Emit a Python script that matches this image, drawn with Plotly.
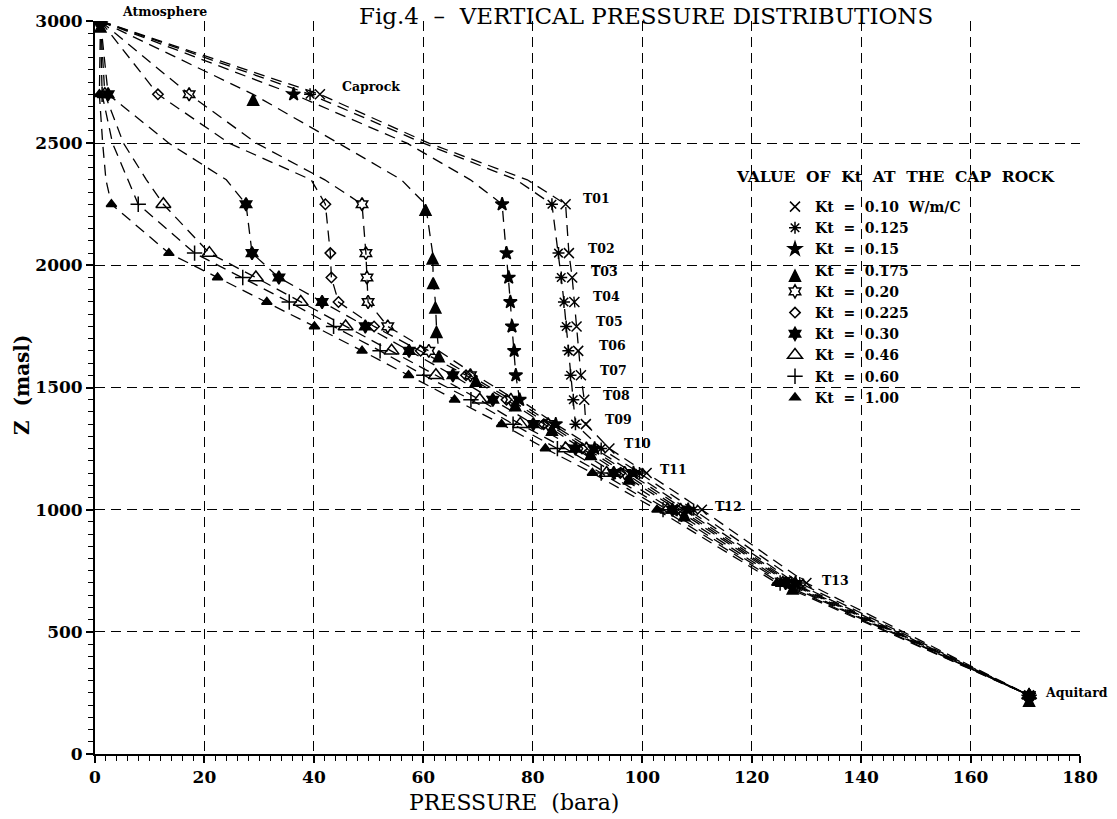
import plotly.graph_objects as go

# ---------------- data ----------------
level_names = ["Atmosphere", "Caprock", "T01", "T02", "T03", "T04", "T05", "T06",
               "T07", "T08", "T09", "T10", "T11", "T12", "T13", "Aquitard"]
level_z = [3000, 2700, 2250, 2050, 1950, 1850, 1750, 1650, 1550, 1450, 1350,
           1250, 1150, 1000, 700, 240]

kt_values = ["0.10", "0.125", "0.15", "0.175", "0.20", "0.225", "0.30", "0.46", "0.60", "1.00"]

p_kt010 = [1.0, 41.1, 86.0, 86.6, 87.2, 87.6, 88.0, 88.3, 88.8, 89.4, 89.7, 94.0, 100.8, 110.9, 130.0, 170.7]
p_kt0125 = [1.0, 39.3, 83.5, 84.7, 85.2, 85.7, 86.1, 86.5, 86.9, 87.4, 87.8, 92.5, 99.5, 109.4, 128.8, 170.7]
p_kt015 = [1.0, 36.3, 74.4, 75.2, 75.6, 75.9, 76.2, 76.6, 76.9, 77.6, 84.2, 91.3, 98.4, 108.4, 128.0, 170.7]
p_kt0175 = [1.0, 28.9, 60.4, 61.7, 61.8, 62.2, 62.4, 62.8, 69.6, 76.8, 83.5, 90.6, 97.6, 107.7, 127.5, 170.7]
p_kt020 = [1.0, 17.2, 48.8, 49.5, 49.7, 49.9, 53.5, 61.0, 68.6, 76.0, 82.8, 89.8, 96.8, 107.0, 127.1, 170.7]
p_kt0225 = [1.0, 11.5, 42.1, 43.0, 43.2, 44.5, 51.0, 59.5, 67.8, 75.2, 82.0, 89.0, 96.0, 106.4, 126.7, 170.7]
p_kt030 = [1.0, 2.4, 27.6, 28.7, 33.6, 41.5, 49.4, 57.4, 65.4, 72.7, 80.1, 87.8, 94.8, 105.5, 126.2, 170.7]
p_kt046 = [1.0, 1.8, 12.5, 20.9, 29.4, 37.6, 45.8, 54.2, 62.3, 70.3, 77.7, 86.0, 93.5, 104.6, 125.7, 170.7]
p_kt060 = [1.0, 1.3, 7.9, 18.2, 27.0, 35.5, 43.6, 52.1, 60.1, 68.7, 76.4, 84.5, 92.5, 103.8, 125.2, 170.7]
p_kt100 = [1.0, 0.8, 3.0, 13.5, 22.4, 31.4, 40.1, 48.8, 57.3, 65.7, 74.3, 82.3, 90.9, 102.7, 124.6, 170.7]

# curve points read between the caprock and T01 (no markers there)
upper_z = [2500, 2350]
upper_kt010 = [61.0, 79.0]
upper_kt0125 = [60.0, 77.0]
upper_kt015 = [57.0, 68.6]
upper_kt0175 = [44.5, 56.0]
upper_kt020 = [29.5, 42.0]
upper_kt0225 = [24.5, 39.5]
upper_kt030 = [13.5, 24.0]
upper_kt046 = [5.2, 9.4]
upper_kt060 = [3.2, 6.0]
upper_kt100 = [1.4, 2.0]

series_p = [p_kt010, p_kt0125, p_kt015, p_kt0175, p_kt020, p_kt0225, p_kt030, p_kt046, p_kt060, p_kt100]
series_upper = [upper_kt010, upper_kt0125, upper_kt015, upper_kt0175, upper_kt020,
                upper_kt0225, upper_kt030, upper_kt046, upper_kt060, upper_kt100]

x_ticks = [0, 20, 40, 60, 80, 100, 120, 140, 160, 180]
y_ticks = [0, 500, 1000, 1500, 2000, 2500, 3000]

# ---------------- styles ----------------
symbols = ["x-thin-open", "asterisk-open", "star", "arrow-up", "hexagram-open",
           "diamond-open", "hexagram", "triangle-up-open", "cross-thin-open", "triangle-up"]
sizes = [10, 10, 10, 11, 10, 8, 10, 13, 11, 9]

# label anchor positions (P, Z) for the level names
label_pos_p = [4.5, 44.7, 88.9, 89.8, 90.3, 90.7, 91.2, 91.7, 91.9, 92.4, 92.9, 96.3, 102.9, 112.9, 132.4, 173.3]
label_pos_z = [3000, 2730, 2274, 2070, 1975, 1872, 1772, 1671, 1569, 1469, 1370, 1269, 1165, 1012, 712, 250]

SERIF = "DejaVu Serif"
W, H = 1117, 819
ML, MR, MT, MB = 95, 37, 21, 65
PW, PH = W - ML - MR, H - MT - MB


def px(xw):
    return (xw - ML) / PW


def py(yw):
    return (H - MB - yw) / PH


fig = go.Figure()

# dashed profile curves
for p, up in zip(series_p, series_upper):
    z_line = level_z[:2] + upper_z + level_z[2:]
    p_line = p[:2] + up + p[2:]
    fig.add_trace(go.Scatter(
        x=p_line, y=z_line, mode="lines", showlegend=False, hoverinfo="skip",
        line=dict(color="black", width=1.3, dash="11px,7px")))

# markers (legend entries)
for p, kt, sym, sz in zip(series_p, kt_values, symbols, sizes):
    name = "Kt\u00a0\u00a0=\u00a0\u00a0" + kt + ("\u00a0\u00a0W/m/C" if kt == "0.10" else "")
    fig.add_trace(go.Scatter(
        x=p, y=level_z, mode="markers", name=name,
        marker=dict(symbol=sym, size=sz, color="black",
                    line=dict(color="black", width=1.5))))

annotations = []
for name, lp, lz in zip(level_names, label_pos_p, label_pos_z):
    annotations.append(dict(x=lp, y=lz, xref="x", yref="y", text="<b>" + name + "</b>",
                            showarrow=False, xanchor="left",
                            yanchor="bottom" if name == "Atmosphere" else "middle",
                            font=dict(family=SERIF, size=12.5, color="black")))

annotations.append(dict(x=px(646), y=py(0.5), xref="paper", yref="paper",
                        text="Fig.4\u00a0\u00a0–\u00a0\u00a0VERTICAL PRESSURE DISTRIBUTIONS",
                        showarrow=False, xanchor="center", yanchor="top",
                        font=dict(family=SERIF, size=23, color="black")))
annotations.append(dict(x=px(514), y=py(802), xref="paper", yref="paper",
                        text="PRESSURE\u00a0\u00a0(bara)", showarrow=False,
                        xanchor="center", yanchor="middle",
                        font=dict(family=SERIF, size=22, color="black")))
annotations.append(dict(x=px(22), y=py(385), xref="paper", yref="paper",
                        text="<b>Z\u00a0\u00a0(masl)</b>", showarrow=False, textangle=-90,
                        xanchor="center", yanchor="middle",
                        font=dict(family=SERIF, size=20, color="black")))
annotations.append(dict(x=px(895), y=py(176), xref="paper", yref="paper",
                        text="<b>VALUE\u00a0\u00a0OF\u00a0\u00a0Kt\u00a0\u00a0AT\u00a0\u00a0THE\u00a0\u00a0CAP\u00a0\u00a0ROCK</b>",
                        showarrow=False, xanchor="center", yanchor="middle",
                        font=dict(family=SERIF, size=15.5, color="black")))

tickfont = dict(family=SERIF, size=17, color="black", weight="bold")
axis_common = dict(showgrid=True, gridcolor="black", gridwidth=1.2, griddash="10px,6px",
                   zeroline=False, showline=True, linecolor="black", linewidth=1.8,
                   ticks="outside", ticklen=7, tickwidth=1.5, tickcolor="black",
                   tickfont=tickfont, automargin=False)
fig.update_layout(
    width=W, height=H,
    margin=dict(l=ML, r=MR, t=MT, b=MB),
    paper_bgcolor="white", plot_bgcolor="white",
    annotations=annotations,
    legend=dict(
        x=px(775), y=py(191), xanchor="left", yanchor="top",
        bgcolor="rgba(0,0,0,0)", borderwidth=0,
        font=dict(family=SERIF, size=14, color="black", weight="bold"),
        itemwidth=30, tracegroupgap=0),
    xaxis=dict(range=[0, 180], tickvals=x_ticks,
               minor=dict(dtick=2, ticks="outside", ticklen=5, tickwidth=1.2,
                          tickcolor="black", showgrid=False),
               **axis_common),
    yaxis=dict(range=[0, 3000], tickvals=y_ticks,
               minor=dict(dtick=50, ticks="outside", ticklen=5, tickwidth=1.2,
                          tickcolor="black", showgrid=False),
               **axis_common),
)

fig.write_html("out.html", config={"displayModeBar": False},
               post_script="document.body.style.margin='0';")
